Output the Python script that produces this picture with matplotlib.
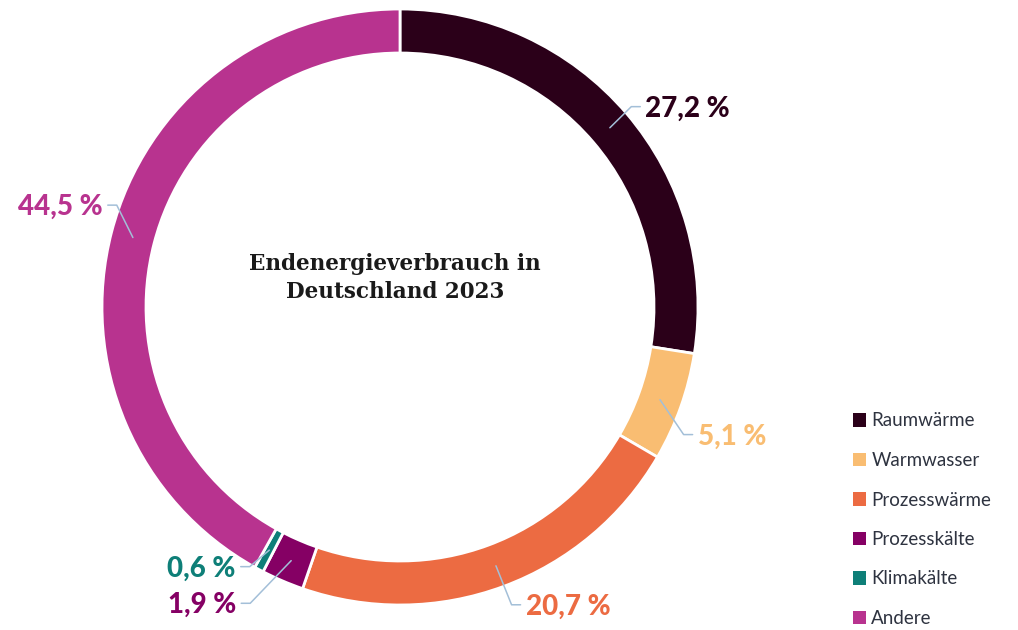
import numpy as np
import matplotlib.pyplot as plt
from matplotlib.patches import Patch

# Anteile am Endenergieverbrauch (Ring so gezeichnet)
categories = ['Raumwärme', 'Warmwasser', 'Prozesswärme', 'Prozesskälte', 'Klimakälte', 'Andere']
ring_shares = [27.5, 5.9, 21.9, 2.3, 0.5, 41.9]
label_texts = ['27,2 %', '5,1 %', '20,7 %', '1,9 %', '0,6 %', '44,5 %']
colors = ['#2b0019', '#f9bd72', '#ec6b42', '#850064', '#0e7f78', '#b8338f']

W, H = 1018, 630
cx, cy = 400, H - 307
r_out, ring_w = 298, 44
leader_col = '#a3bfd8'

fig = plt.figure(figsize=(W / 100, H / 100), dpi=100)
ax = fig.add_axes([0, 0, 1, 1])

wedges, _ = ax.pie(ring_shares, colors=colors, startangle=90, counterclock=False,
                   center=(cx, cy), radius=r_out,
                   wedgeprops=dict(width=ring_w, edgecolor='white', linewidth=2))
ax.set_xlim(0, W)
ax.set_ylim(0, H)
ax.set_aspect('equal')
ax.axis('off')

# Beschriftungen mit Führungslinien: (Radius Knick, Winkelversatz Knick, Seite)
leader_layout = [(306, 0.4, 1), (311, -4.6, 1), (318, 0.2, 1),
                 (332, -3.6, -1), (300, -1.8, -1), (301, -5.2, -1)]
r_mid = r_out - ring_w / 2
for w, txt, col, (r_e, d_ang, side) in zip(wedges, label_texts, colors, leader_layout):
    ang = np.deg2rad((w.theta1 + w.theta2) / 2)
    ang_e = ang + np.deg2rad(d_ang)
    x0, y0 = cx + r_mid * np.cos(ang), cy + r_mid * np.sin(ang)
    x1, y1 = cx + r_e * np.cos(ang_e), cy + r_e * np.sin(ang_e)
    x2 = x1 + side * 9
    ax.plot([x0, x1, x2], [y0, y1, y1], color=leader_col, lw=1.1, solid_capstyle='round')
    ax.text(x2 + side * 5, y1 - 2, txt, color=col, fontsize=20, fontweight='black',
            family='Lato', ha='left' if side > 0 else 'right', va='center')

# Titel in der Mitte
ax.text(cx - 5, H - 278, 'Endenergieverbrauch in\nDeutschland 2023', ha='center', va='center',
        fontsize=15.5, fontweight='bold', family='DejaVu Serif', color='#1a1a1a',
        linespacing=1.4)

handles = [Patch(facecolor=c, edgecolor='none') for c in colors]
leg = ax.legend(handles, categories, loc='upper left', bbox_to_anchor=(845 / W, 1 - 405 / H),
                frameon=False, fontsize=13.5, handlelength=0.7, handleheight=0.7,
                handletextpad=0.3, labelspacing=1.2, borderaxespad=0)
for t in leg.get_texts():
    t.set_color('#2e3340')
    t.set_family('Lato')

fig.savefig('out.png', dpi=100, facecolor='white')
